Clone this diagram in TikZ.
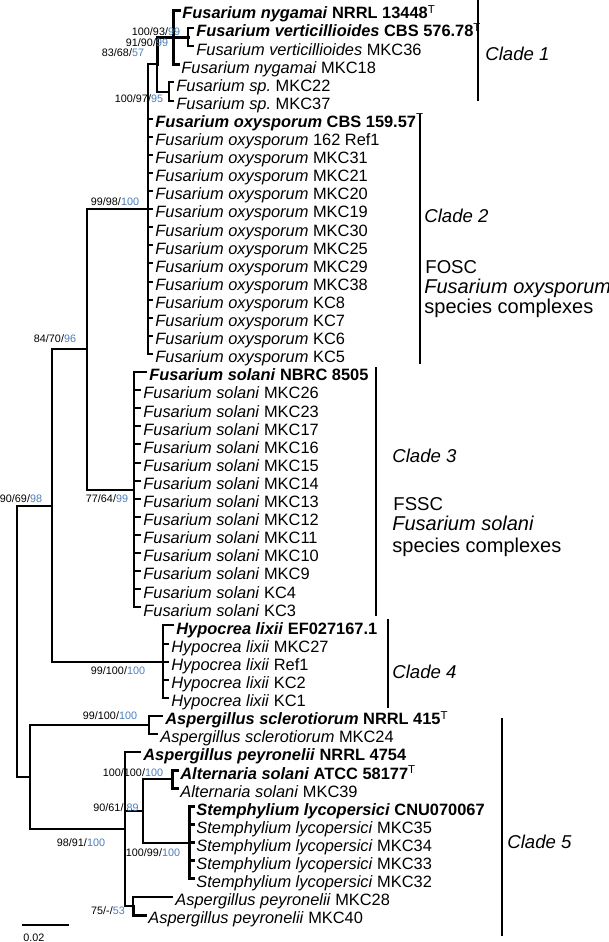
\documentclass[tikz,border=0pt]{standalone}
\usepackage{fontspec}
\setmainfont{Liberation Sans}
\usetikzlibrary{positioning}
\definecolor{bsblue}{RGB}{74,126,187}
\frenchspacing

\begin{document}
\begin{tikzpicture}[x=0.5pt,y=-0.5pt,line cap=rect,
 branch/.style={line width=1pt},
 heavy/.style={line width=1.5pt},
 leaf/.style={anchor=base west,inner sep=0pt,xshift=1.5pt,yshift=-4.4pt,font=\fontsize{8.2}{9}\selectfont},
 support/.style={inner sep=0pt,font=\fontsize{5.4}{6}\selectfont},
 cladebar/.style={line width=1pt},
 cladetext/.style={anchor=base west,inner sep=0pt,font=\fontsize{9.3}{11}\selectfont},
 cladenote/.style={cladetext,font=\fontsize{10}{12}\selectfont}]

\useasboundingbox (0,0) rectangle (609,942);

% inner nodes of the tree
\coordinate (R) at (17,641.3);
\coordinate (I) at (52,505.5);
\coordinate (G) at (87,349.4);
\coordinate (E) at (148,209.1);
\coordinate (D) at (157,64.3);
\coordinate (B) at (173,37.2);
\coordinate (A) at (188,37.2);
\coordinate (C) at (169,91.5);
\coordinate (F) at (134,489.7);
\coordinate (H) at (163,661.6);
\coordinate (K) at (30,777);
\coordinate (J) at (149,725);
\coordinate (L) at (125,829);
\coordinate (M) at (143,810.9);
\coordinate (O) at (172,779.3);
\coordinate (P) at (189,842.6);
\coordinate (N) at (133,906);

% tips
\coordinate (t1) at (179,10);
\coordinate (t2) at (193,28.1);
\coordinate (t3) at (193,46.2);
\coordinate (t4) at (178,64.3);
\coordinate (t5) at (173,82.4);
\coordinate (t6) at (173,100.5);
\coordinate (t7) at (152,118.6);
\coordinate (t8) at (152,136.7);
\coordinate (t9) at (152,154.8);
\coordinate (t10) at (152,172.9);
\coordinate (t11) at (152,191.0);
\coordinate (t12) at (152,209.1);
\coordinate (t13) at (152,227.2);
\coordinate (t14) at (152,245.3);
\coordinate (t15) at (152,263.4);
\coordinate (t16) at (152,281.5);
\coordinate (t17) at (152,299.6);
\coordinate (t18) at (152,317.7);
\coordinate (t19) at (152,335.8);
\coordinate (t20) at (152,353.9);
\coordinate (t21) at (146,372.0);
\coordinate (t22) at (140,390.1);
\coordinate (t23) at (140,408.2);
\coordinate (t24) at (140,426.3);
\coordinate (t25) at (140,444.4);
\coordinate (t26) at (140,462.5);
\coordinate (t27) at (140,480.6);
\coordinate (t28) at (140,498.7);
\coordinate (t29) at (140,516.8);
\coordinate (t30) at (140,534.9);
\coordinate (t31) at (140,553.0);
\coordinate (t32) at (140,571.1);
\coordinate (t33) at (140,589.2);
\coordinate (t34) at (140,607.3);
\coordinate (t35) at (173,625.4);
\coordinate (t36) at (168,643.5);
\coordinate (t37) at (168,661.6);
\coordinate (t38) at (168,679.7);
\coordinate (t39) at (168,697.8);
\coordinate (t40) at (162,715.9);
\coordinate (t41) at (157,734.0);
\coordinate (t42) at (140,752.1);
\coordinate (t43) at (177,770.2);
\coordinate (t44) at (177,788.3);
\coordinate (t45) at (193,806.4);
\coordinate (t46) at (193,824.5);
\coordinate (t47) at (193,842.6);
\coordinate (t48) at (193,860.7);
\coordinate (t49) at (193,878.8);
\coordinate (t50) at (172,896.9);
\coordinate (t51) at (145,915.0);

% branches
\draw[branch] (R) |- (I);
\draw[branch] (R) |- (K);
\draw[branch] (I) |- (G);
\draw[branch] (I) |- (H);
\draw[branch] (G) |- (E);
\draw[branch] (G) |- (F);
\draw[branch] (E) |- (D);
\draw[branch] (D) |- (C);
\draw[heavy] (D) |- (B);
\draw[heavy] (B) |- (t1);
\draw[heavy] (B) |- (A);
\draw[heavy] (B) |- (t4);
\draw[branch] (A) |- (t2);
\draw[branch] (A) |- (t3);
\draw[branch] (C) |- (t5);
\draw[branch] (C) |- (t6);
\foreach \i in {7,...,20} \draw[branch] (E) |- (t\i);
\foreach \i in {21,...,34} \draw[branch] (F) |- (t\i);
\foreach \i in {35,...,39} \draw[branch] (H) |- (t\i);
\draw[branch] (K) |- (J);
\draw[branch] (K) |- (L);
\draw[branch] (J) |- (t40);
\draw[branch] (J) |- (t41);
\draw[branch] (L) |- (t42);
\draw[branch] (L) |- (M);
\draw[branch] (L) |- (N);
\draw[branch] (M) |- (O);
\draw[branch] (M) |- (P);
\draw[heavy] (O) |- (t43);
\draw[heavy] (O) |- (t44);
\foreach \i in {45,...,49} \draw[heavy] (P) |- (t\i);
\draw[branch] (N) |- (t50);
\draw[heavy] (N) |- (t51);

% leaf labels
\node[leaf] (l1) at (t1) {\textbf{\textit{Fusarium nygamai} NRRL 13448}\textsuperscript{T}};
\node[leaf] (l2) at (t2) {\textbf{\textit{Fusarium verticillioides} CBS 576.78}\textsuperscript{T}};
\node[leaf] (l3) at (t3) {\textit{Fusarium verticillioides} MKC36};
\node[leaf] (l4) at (t4) {\textit{Fusarium nygamai} MKC18};
\node[leaf] (l5) at (t5) {\textit{Fusarium sp.} MKC22};
\node[leaf] (l6) at (t6) {\textit{Fusarium sp.} MKC37};
\node[leaf] (l7) at (t7) {\textbf{\textit{Fusarium oxysporum} CBS 159.57}\textsuperscript{T}};
\node[leaf] (l8) at (t8) {\textit{Fusarium oxysporum} 162 Ref1};
\node[leaf] (l9) at (t9) {\textit{Fusarium oxysporum} MKC31};
\node[leaf] (l10) at (t10) {\textit{Fusarium oxysporum} MKC21};
\node[leaf] (l11) at (t11) {\textit{Fusarium oxysporum} MKC20};
\node[leaf] (l12) at (t12) {\textit{Fusarium oxysporum} MKC19};
\node[leaf] (l13) at (t13) {\textit{Fusarium oxysporum} MKC30};
\node[leaf] (l14) at (t14) {\textit{Fusarium oxysporum} MKC25};
\node[leaf] (l15) at (t15) {\textit{Fusarium oxysporum} MKC29};
\node[leaf] (l16) at (t16) {\textit{Fusarium oxysporum} MKC38};
\node[leaf] (l17) at (t17) {\textit{Fusarium oxysporum} KC8};
\node[leaf] (l18) at (t18) {\textit{Fusarium oxysporum} KC7};
\node[leaf] (l19) at (t19) {\textit{Fusarium oxysporum} KC6};
\node[leaf] (l20) at (t20) {\textit{Fusarium oxysporum} KC5};
\node[leaf] (l21) at (t21) {\textbf{\textit{Fusarium solani} NBRC 8505}};
\node[leaf] (l22) at (t22) {\textit{Fusarium solani} MKC26};
\node[leaf] (l23) at (t23) {\textit{Fusarium solani} MKC23};
\node[leaf] (l24) at (t24) {\textit{Fusarium solani} MKC17};
\node[leaf] (l25) at (t25) {\textit{Fusarium solani} MKC16};
\node[leaf] (l26) at (t26) {\textit{Fusarium solani} MKC15};
\node[leaf] (l27) at (t27) {\textit{Fusarium solani} MKC14};
\node[leaf] (l28) at (t28) {\textit{Fusarium solani} MKC13};
\node[leaf] (l29) at (t29) {\textit{Fusarium solani} MKC12};
\node[leaf] (l30) at (t30) {\textit{Fusarium solani} MKC11};
\node[leaf] (l31) at (t31) {\textit{Fusarium solani} MKC10};
\node[leaf] (l32) at (t32) {\textit{Fusarium solani} MKC9};
\node[leaf] (l33) at (t33) {\textit{Fusarium solani} KC4};
\node[leaf] (l34) at (t34) {\textit{Fusarium solani} KC3};
\node[leaf] (l35) at (t35) {\textbf{\textit{Hypocrea lixii} EF027167.1}};
\node[leaf] (l36) at (t36) {\textit{Hypocrea lixii} MKC27};
\node[leaf] (l37) at (t37) {\textit{Hypocrea lixii} Ref1};
\node[leaf] (l38) at (t38) {\textit{Hypocrea lixii} KC2};
\node[leaf] (l39) at (t39) {\textit{Hypocrea lixii} KC1};
\node[leaf] (l40) at (t40) {\textbf{\textit{Aspergillus sclerotiorum} NRRL 415}\textsuperscript{T}};
\node[leaf] (l41) at (t41) {\textit{Aspergillus sclerotiorum} MKC24};
\node[leaf] (l42) at (t42) {\textbf{\textit{Aspergillus peyronelii} NRRL 4754}};
\node[leaf] (l43) at (t43) {\textbf{\textit{Alternaria solani} ATCC 58177}\textsuperscript{T}};
\node[leaf] (l44) at (t44) {\textit{Alternaria solani} MKC39};
\node[leaf] (l45) at (t45) {\textbf{\textit{Stemphylium lycopersici} CNU070067}};
\node[leaf] (l46) at (t46) {\textit{Stemphylium lycopersici} MKC35};
\node[leaf] (l47) at (t47) {\textit{Stemphylium lycopersici} MKC34};
\node[leaf] (l48) at (t48) {\textit{Stemphylium lycopersici} MKC33};
\node[leaf] (l49) at (t49) {\textit{Stemphylium lycopersici} MKC32};
\node[leaf] (l50) at (t50) {\textit{Aspergillus peyronelii} MKC28};
\node[leaf] (l51) at (t51) {\textit{Aspergillus peyronelii} MKC40};

% support values
\node[support] (s1) at (156,32) {100/93/\textcolor{bsblue}{99}};
\node[support] (s2) at (147,43) {91/90/\textcolor{bsblue}{99}};
\node[support] (s3) at (123,53) {83/68/\textcolor{bsblue}{57}};
\node[support] (s4) at (139,99) {100/97/\textcolor{bsblue}{95}};
\node[support] (s5) at (115,202) {99/98/\textcolor{bsblue}{100}};
\node[support] (s6) at (55,339) {84/70/\textcolor{bsblue}{96}};
\node[support] (s7) at (21,499) {90/69/\textcolor{bsblue}{98}};
\node[support] (s8) at (107,499) {77/64/\textcolor{bsblue}{99}};
\node[support] (s9) at (118,671) {99/100/\textcolor{bsblue}{100}};
\node[support] (s10) at (110,716) {99/100/\textcolor{bsblue}{100}};
\node[support] (s11) at (133,773) {100/100/\textcolor{bsblue}{100}};
\node[support] (s12) at (116,808) {90/61/ \textcolor{bsblue}{89}};
\node[support] (s13) at (81,843) {98/91/\textcolor{bsblue}{100}};
\node[support] (s14) at (153,853) {100/99/\textcolor{bsblue}{100}};
\node[support] (s15) at (108,911) {75/-/\textcolor{bsblue}{53}};

% clades
\draw[cladebar] (478,0) -- (478,100);
\node[cladetext] (c1) at (485,60) {\textit{Clade 1}};
\draw[cladebar] (420,115) -- (420,363);
\node[cladetext] (c2) at (424,222) {\textit{Clade 2}};
\node[cladetext] (c2a) at (425,273) {FOSC};
\node[cladenote] (c2b) at (424,293) {\textit{Fusarium oxysporum}};
\node[cladenote] (c2c) at (424,313) {species complexes};
\draw[cladebar] (376,368) -- (376,615);
\node[cladetext] (c3) at (392,462) {\textit{Clade 3}};
\node[cladetext] (c3a) at (393,510) {FSSC};
\node[cladenote] (c3b) at (392,530) {\textit{Fusarium solani}};
\node[cladenote] (c3c) at (392,552) {species complexes};
\draw[cladebar] (388,620) -- (388,707);
\node[cladetext] (c4) at (392,678) {\textit{Clade 4}};
\draw[cladebar] (502,719) -- (502,935);
\node[cladetext] (c5) at (507,848) {\textit{Clade 5}};

% scale bar
\coordinate (sb1) at (23,925);
\coordinate (sb2) at (68,925);
\draw[branch] (sb1) -- (sb2);
\node[support,anchor=west] (sbl) at (23,938) {0.02};

\end{tikzpicture}
\end{document}
